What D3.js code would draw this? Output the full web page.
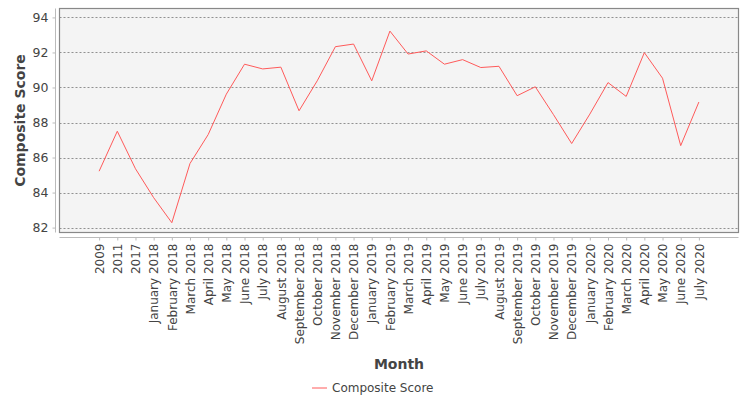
<!DOCTYPE html>
<html>
<head>
<meta charset="utf-8">
<script src="https://cdn.jsdelivr.net/npm/d3@7"></script>
<style>
  body { margin: 0; background: #fff; }
  text { font-family: "DejaVu Sans", sans-serif; }
</style>
</head>
<body>
<div class="chart"></div>
<script>
var months = ['2009', '2011', '2017', 'January 2018', 'February 2018', 'March 2018', 'April 2018',
    'May 2018', 'June 2018', 'July 2018', 'August 2018', 'September 2018', 'October 2018',
    'November 2018', 'December 2018', 'January 2019', 'February 2019', 'March 2019', 'April 2019',
    'May 2019', 'June 2019', 'July 2019', 'August 2019', 'September 2019', 'October 2019',
    'November 2019', 'December 2019', 'January 2020', 'February 2020', 'March 2020', 'April 2020',
    'May 2020', 'June 2020', 'July 2020'];

var scores = [85.22, 87.50, 85.36, 83.71, 82.28, 85.66, 87.31, 89.62, 91.33, 91.06, 91.16,
    88.67, 90.38, 92.33, 92.48, 90.38, 93.22, 91.91, 92.09, 91.33, 91.59, 91.14, 91.21,
    89.53, 90.04, 88.45, 86.80, 88.48, 90.28, 89.49, 91.99, 90.53, 86.68, 89.17];

var yTicks = [82, 84, 86, 88, 90, 92, 94];

(() => {
var width = 750,
    height = 400,
    plot = {left: 59.5, right: 738.5, top: 8.5, bottom: 232.5};

var svg = d3.select('div.chart')
    .append('svg')
        .attr('width', width)
        .attr('height', height);

var x = d3.scalePoint()
    .domain(months)
    .range([plot.left, plot.right])
    .padding(2.18);

var y = d3.scaleLinear()
    .domain([81.72, 94.51])
    .range([plot.bottom, plot.top]);

// plot background
svg.append('rect')
    .attr('x', plot.left)
    .attr('y', plot.top)
    .attr('width', plot.right - plot.left)
    .attr('height', plot.bottom - plot.top)
    .attr('fill', '#f4f4f4');

// gridlines
svg.append('g')
    .selectAll('line')
    .data(yTicks)
    .enter()
    .append('line')
        .attr('x1', plot.left)
        .attr('x2', plot.right)
        .attr('y1', (d) => Math.round(y(d)) + 0.5)
        .attr('y2', (d) => Math.round(y(d)) + 0.5)
        .attr('stroke', '#777')
        .attr('stroke-width', 0.8)
        .attr('stroke-dasharray', '2,2');

// plot border
svg.append('rect')
    .attr('x', plot.left)
    .attr('y', plot.top)
    .attr('width', plot.right - plot.left)
    .attr('height', plot.bottom - plot.top)
    .attr('fill', 'none')
    .attr('stroke', '#888')
    .attr('stroke-width', 1.2);

// y axis
var yAxis = svg.append('g')
    .attr('transform', 'translate(55.5,0)')
    .call(d3.axisLeft(y).tickValues(yTicks).tickSize(3).tickPadding(4));
yAxis.select('.domain')
    .attr('d', 'M0,' + plot.top + 'V' + plot.bottom)
    .attr('stroke', '#bbb');
yAxis.selectAll('.tick line').attr('stroke', '#bbb');
yAxis.selectAll('.tick text')
    .attr('fill', '#444')
    .style('font-size', '12.5px');

// x axis
var xAxis = svg.append('g')
    .attr('transform', 'translate(0,237.5)')
    .call(d3.axisBottom(x).tickSize(3).tickPadding(4));
xAxis.select('.domain')
    .attr('d', 'M' + plot.left + ',0H' + plot.right)
    .attr('stroke', '#bbb');
xAxis.selectAll('.tick line').attr('stroke', '#bbb');
xAxis.selectAll('.tick text')
    .attr('fill', '#444')
    .style('font-size', '12px')
    .attr('transform', 'rotate(-90)')
    .attr('text-anchor', 'end')
    .attr('x', -6)
    .attr('y', 0)
    .attr('dy', '0.35em');

// line
var line = d3.line()
    .x((d, i) => x(months[i]))
    .y((d) => y(d));

svg.append('path')
    .datum(scores)
    .attr('d', line)
    .attr('fill', 'none')
    .attr('stroke', '#ff5a5a')
    .attr('stroke-width', 1);

// axis titles
svg.append('text')
    .text('Composite Score')
    .attr('transform', 'translate(25,' + ((plot.top + plot.bottom) / 2) + ') rotate(-90)')
    .attr('text-anchor', 'middle')
    .attr('fill', '#444')
    .style('font-size', '14px')
    .style('font-weight', 'bold');

svg.append('text')
    .text('Month')
    .attr('x', (plot.left + plot.right) / 2)
    .attr('y', 369)
    .attr('text-anchor', 'middle')
    .attr('fill', '#444')
    .style('font-size', '14px')
    .style('font-weight', 'bold');

// legend
var legend = svg.append('g').attr('transform', 'translate(312,388)');
legend.append('line')
    .attr('x1', 0)
    .attr('x2', 15)
    .attr('y1', 0)
    .attr('y2', 0)
    .attr('stroke', '#ff5a5a')
    .attr('stroke-width', 1);
legend.append('text')
    .text('Composite Score')
    .attr('x', 20)
    .attr('y', 0)
    .attr('dy', '0.35em')
    .attr('fill', '#444')
    .style('font-size', '12px');
})();
</script>
</body>
</html>
